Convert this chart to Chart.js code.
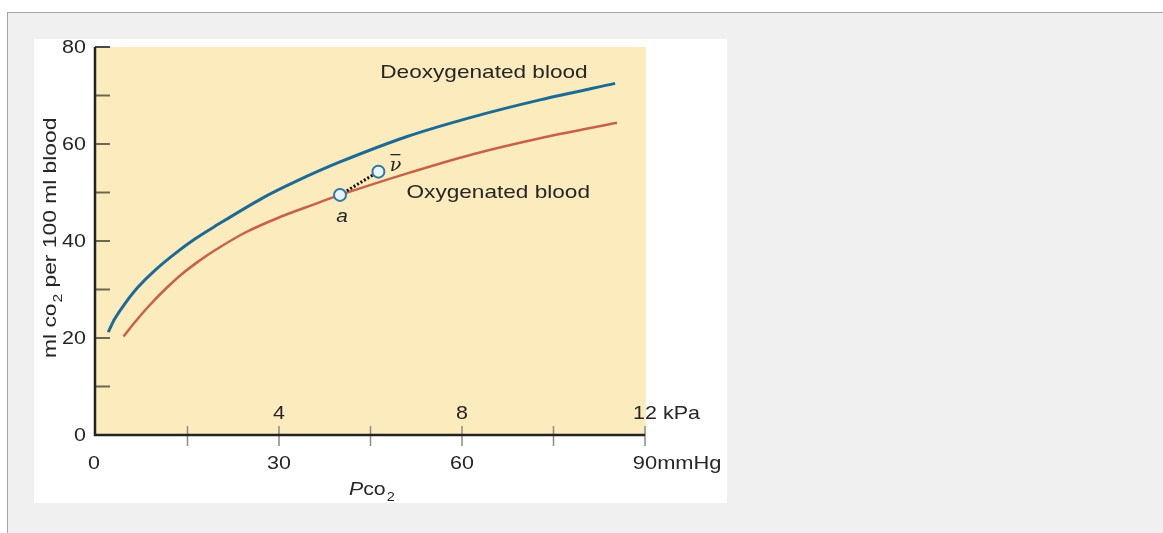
<!DOCTYPE html>
<html>
<head>
<meta charset="utf-8">
<script src="https://cdn.jsdelivr.net/npm/chart.js@4.4.1/dist/chart.umd.min.js"></script>
<style>
  html, body { margin: 0; width: 1163px; height: 533px; overflow: hidden; background: #fff; }
  #frame {
    position: absolute; left: 7px; top: 12px; width: 1156px; height: 521px;
    background: #f0f0f0; border-top: 1px solid #a4a4a4; border-left: 1px solid #a4a4a4;
    box-sizing: border-box;
  }
  #panel { position: absolute; left: 34px; top: 39px; width: 693px; height: 464px; background: #fff; }
  #chart { position: absolute; left: 0; top: 0; }
</style>
</head>
<body>
<div id="frame"></div>
<div id="panel"></div>
<canvas id="chart" width="1163" height="533"></canvas>

<script>
// PCO2 in mmHg, CO2 content in ml per 100 ml blood
const deoxyPco2 = [2.0, 3.1, 4.75, 6.9, 9.7, 12.95, 16.2, 19.2, 27.2, 32.6, 40.0, 50.9, 61.8, 72.8, 85.1];
const deoxyCo2  = [21.2, 24.0, 27.1, 30.5, 34.0, 37.4, 40.4, 42.8, 48.8, 52.2, 56.3, 61.5, 65.6, 69.1, 72.5];

const oxyPco2 = [4.5, 6.4, 8.6, 11.3, 14.0, 16.8, 19.5, 24.4, 29.9, 35.4, 40.0, 50.9, 61.8, 72.8, 85.4];
const oxyCo2  = [20.3, 23.3, 26.5, 30.0, 33.1, 35.8, 38.1, 41.7, 44.8, 47.4, 49.5, 53.9, 57.9, 61.2, 64.4];

// arterial (a) and mixed venous (v̄) points
const pointNames = ['a', 'ν'];
const pointPco2 = [40.0, 46.3];
const pointCo2  = [49.5, 54.3];

const yTicks = [0, 10, 20, 30, 40, 50, 60, 70, 80];
const yLabels = [0, 20, 40, 60, 80];
const mmHgTicks = [15, 30, 45, 60, 75, 90];
const mmHgLabels = [0, 30, 60, 90];
const kpaLabels = [4, 8, 12];
const MMHG_PER_KPA = 7.5;

const zip = (xs, ys) => xs.map((x, i) => ({ x, y: ys[i] }));

const FONT = '"Liberation Sans", Arial, sans-serif';
const INK = '#262626';

function put(ctx, str, x, y, size, opts = {}) {
  const {
    align = 'left', italic = false, family = FONT, sx = 1.17,
    baseline = 'alphabetic', color = INK,
  } = opts;
  ctx.save();
  ctx.translate(x, y);
  ctx.scale(sx, 1);
  ctx.font = `${italic ? 'italic ' : ''}${size}px ${family}`;
  ctx.textAlign = align;
  ctx.textBaseline = baseline;
  ctx.fillStyle = color;
  ctx.fillText(str, 0, 0);
  const w = ctx.measureText(str).width * sx;
  ctx.restore();
  return w;
}

function measure(ctx, str, size, sx = 1.17) {
  ctx.save();
  ctx.font = `${size}px ${FONT}`;
  const w = ctx.measureText(str).width * sx;
  ctx.restore();
  return w;
}

const paper = {
  id: 'paper',
  beforeDatasetsDraw(chart) {
    const { ctx, chartArea: a } = chart;
    ctx.save();
    ctx.fillStyle = '#fcebbc';
    ctx.fillRect(a.left - 1, a.top, a.right - a.left + 2, a.bottom - a.top);
    ctx.restore();
  },
  afterDatasetsDraw(chart) {
    const { ctx, chartArea: a } = chart;
    const xs = chart.scales.x;
    const ys = chart.scales.y;
    const axisX = a.left - 1;

    ctx.save();
    // y ticks, pointing into the plot
    yTicks.forEach((v) => {
      const py = ys.getPixelForValue(v);
      ctx.strokeStyle = v === 80 ? '#4a4a4a' : '#6f6650';
      ctx.lineWidth = 2;
      ctx.beginPath();
      ctx.moveTo(axisX, py);
      ctx.lineTo(axisX + 15, py);
      ctx.stroke();
    });
    // x ticks crossing the axis
    mmHgTicks.forEach((v) => {
      const px = xs.getPixelForValue(v);
      ctx.strokeStyle = '#8a8a8a';
      ctx.lineWidth = 1.5;
      ctx.beginPath();
      ctx.moveTo(px, a.bottom - 9);
      ctx.lineTo(px, a.bottom + 11);
      ctx.stroke();
    });
    // axes
    ctx.strokeStyle = '#222';
    ctx.lineWidth = 2.5;
    ctx.beginPath();
    ctx.moveTo(axisX, a.top);
    ctx.lineTo(axisX, a.bottom);
    ctx.lineTo(a.right, a.bottom);
    ctx.stroke();
    ctx.restore();

    // y tick labels
    yLabels.forEach((v) => {
      put(ctx, String(v), axisX - 9, ys.getPixelForValue(v) + 1, 19,
        { align: 'right', baseline: 'middle', sx: 1.13 });
    });

    // mmHg labels under the axis
    mmHgLabels.forEach((v, i) => {
      const px = xs.getPixelForValue(v);
      const y = a.bottom + 29;
      if (i === mmHgLabels.length - 1) {
        const w = measure(ctx, String(v), 19, 1.15);
        put(ctx, `${v}mmHg`, px - w / 2, y, 19, { baseline: 'middle', sx: 1.15 });
      } else {
        put(ctx, String(v), v === 0 ? px - 2 : px, y, 19,
          { align: 'center', baseline: 'middle', sx: 1.13 });
      }
    });

    // kPa labels above the axis
    kpaLabels.forEach((v, i) => {
      const px = xs.getPixelForValue(v * MMHG_PER_KPA);
      const y = a.bottom - 21;
      if (i === kpaLabels.length - 1) {
        const w = measure(ctx, String(v), 19, 1.13);
        put(ctx, `${v} kPa`, px - w / 2, y, 19, { baseline: 'middle', sx: 1.13 });
      } else {
        put(ctx, String(v), px, y, 19, { align: 'center', baseline: 'middle', sx: 1.13 });
      }
    });

    // x title: Pco2
    let tx = 349;
    const ty = 495;
    tx += put(ctx, 'P', tx, ty, 19, { italic: true, sx: 1.12 });
    tx += put(ctx, 'co', tx, ty, 19, { sx: 1.12 });
    put(ctx, '2', tx + 1, ty + 6, 13, { sx: 1.12 });

    // y title, rotated
    ctx.save();
    ctx.translate(56, 358);
    ctx.rotate(-Math.PI / 2);
    let lx = 0;
    lx += put(ctx, 'ml co', lx, 0, 19, { sx: 1.2 });
    lx += put(ctx, '2', lx + 1, 6, 13, { sx: 1.2 }) + 1;
    put(ctx, ' per 100 ml blood', lx, 0, 19, { sx: 1.2 });
    ctx.restore();

    // curve labels
    put(ctx, 'Deoxygenated blood', xs.getPixelForValue(46.6), ys.getPixelForValue(73.6), 19, { sx: 1.19 });
    put(ctx, 'Oxygenated blood', xs.getPixelForValue(50.9), ys.getPixelForValue(48.8), 19, { sx: 1.19 });

    // point labels
    const ax = xs.getPixelForValue(pointPco2[0]);
    const ay = ys.getPixelForValue(pointCo2[0]);
    put(ctx, pointNames[0], ax + 2, ay + 27, 19, { italic: true, align: 'center', sx: 1.1 });

    const vx = xs.getPixelForValue(pointPco2[1]);
    const vy = ys.getPixelForValue(pointCo2[1]);
    put(ctx, pointNames[1], vx + 17, vy - 1, 19,
      { italic: true, align: 'center', family: '"DejaVu Serif", "Liberation Serif", serif', sx: 1.0 });
    ctx.save();
    ctx.strokeStyle = INK;
    ctx.lineWidth = 1.3;
    ctx.beginPath();
    ctx.moveTo(vx + 12, vy - 17);
    ctx.lineTo(vx + 22, vy - 17);
    ctx.stroke();
    ctx.restore();
  },
};

new Chart(document.getElementById('chart'), {
  type: 'scatter',
  data: {
    datasets: [
      {
        label: 'a - v',
        data: zip(pointPco2, pointCo2),
        showLine: true,
        borderColor: '#111',
        borderWidth: 3,
        borderDash: [2, 2],
        pointRadius: 6,
        pointBorderWidth: 2,
        pointBackgroundColor: '#eaf5fb',
        pointBorderColor: '#2d78a6',
        order: 0,
      },
      {
        label: 'Deoxygenated blood',
        data: zip(deoxyPco2, deoxyCo2),
        showLine: true,
        borderColor: '#1c6b97',
        borderWidth: 3,
        pointRadius: 0,
        tension: 0.3,
        order: 1,
      },
      {
        label: 'Oxygenated blood',
        data: zip(oxyPco2, oxyCo2),
        showLine: true,
        borderColor: '#c9604a',
        borderWidth: 2.5,
        pointRadius: 0,
        tension: 0.3,
        order: 2,
      },
    ],
  },
  options: {
    responsive: false,
    animation: false,
    devicePixelRatio: 1,
    layout: { padding: { left: 96, top: 47, right: 518, bottom: 98 } },
    scales: {
      x: { type: 'linear', min: 0, max: 90, display: false },
      y: { type: 'linear', min: 0, max: 80, display: false },
    },
    plugins: {
      legend: { display: false },
      tooltip: { enabled: false },
    },
  },
  plugins: [paper],
});
</script>
</body>
</html>
